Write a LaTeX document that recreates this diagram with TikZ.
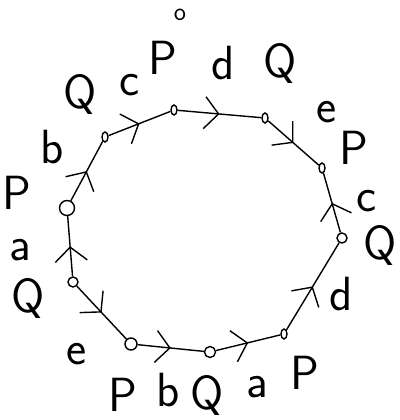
\documentclass[tikz,border=0pt]{standalone}
\usetikzlibrary{arrows.meta,decorations.markings,shapes.geometric}

\begin{document}
\begin{tikzpicture}[
  x=1pt, y=-1pt,
  font=\sffamily\fontsize{48}{50}\selectfont,
  vert/.style={draw, ellipse, line width=1.4pt, inner sep=0pt,
    minimum width=6pt, minimum height=10pt},
  bigvert/.style={draw, circle, line width=1.4pt, inner sep=0pt,
    minimum size=12pt},
  lbl/.style={inner sep=0pt},
  barb/.tip={Straight Barb[length=14pt,width=32pt,line width=1.4pt]},
  walk/.style={line width=1.4pt, postaction={decorate},
    decoration={markings, mark=at position 0.5 with {\arrow{barb}}}}
]
\useasboundingbox (0,0) rectangle (399,420);

% Vertices of the cycle
\node[vert] (v1) at (105,137) {};
\node[vert] (v2) at (174,110) {};
\node[vert] (v3) at (265,118) {};
\node[vert] (v4) at (322,168) {};
\node[bigvert, minimum size=10pt] (v5) at (342,238) {};
\node[vert] (v6) at (284,334) {};
\node[bigvert, minimum size=11pt] (v7) at (210,352) {};
\node[bigvert] (v8) at (131,344) {};
\node[bigvert, minimum size=10pt] (v9) at (73,282) {};
\node[bigvert, minimum size=15pt] (v10) at (67,208) {};

% Edges
\draw[walk] (v1) -- (v2);
\draw[walk] (v2) -- (v3);
\draw[walk] (v3) -- (v4);
\draw[walk] (v5) -- (v4);
\draw[walk] (v6) -- (v5);
\draw[walk] (v7) -- (v6);
\draw[walk] (v8) -- (v7);
\draw[walk] (v9) -- (v8);
\draw[walk] (v9) -- (v10);
\draw[walk] (v10) -- (v1);

% Labels round the outside
\node[lbl, font=\sffamily\fontsize{26}{28}\selectfont] (top) at (180,15) {o};
\node[lbl] (q1) at (80,94) {Q};
\node[lbl] (c1) at (130,85) {c};
\node[lbl] (p1) at (163,58) {P};
\node[lbl] (d1) at (223,63) {d};
\node[lbl] (q2) at (280,63) {Q};
\node[lbl] (e1) at (327,112) {e};
\node[lbl] (p2) at (354,148) {P};
\node[lbl] (c2) at (367,201) {c};
\node[lbl] (q3) at (380,245) {Q};
\node[lbl] (d2) at (341,294) {d};
\node[lbl] (p3) at (305,373) {P};
\node[lbl] (a1) at (257,387) {a};
\node[lbl] (q4) at (207,395) {Q};
\node[lbl] (b1) at (168,390) {b};
\node[lbl] (p4) at (123,395) {P};
\node[lbl] (e2) at (77,354) {e};
\node[lbl] (q5) at (28,298) {Q};
\node[lbl] (a2) at (20,250) {a};
\node[lbl] (p5) at (17,193) {P};
\node[lbl] (b2) at (52,147) {b};

\end{tikzpicture}
\end{document}
